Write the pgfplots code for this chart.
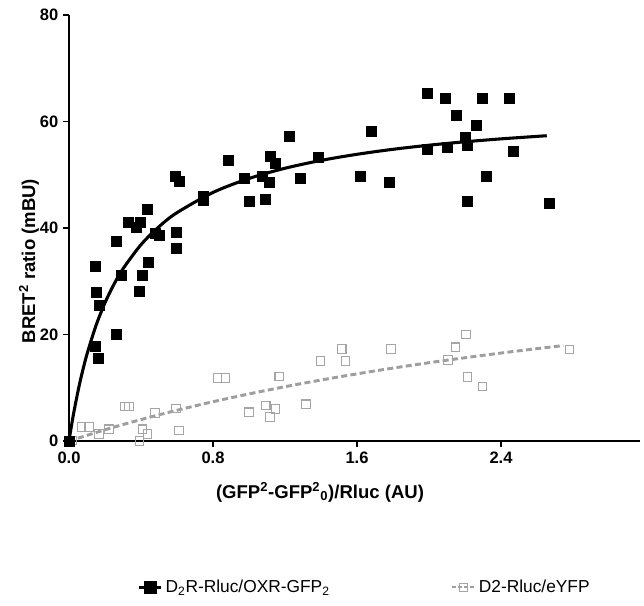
\documentclass[border=0pt]{standalone}
\usepackage{fontspec}
\setmainfont{Liberation Sans}
\usepackage{pgfplots}
\pgfplotsset{compat=1.18}
\definecolor{lgray}{RGB}{165,165,165}
\definecolor{dgray}{RGB}{158,158,158}
\begin{document}
\begin{tikzpicture}[x=1pt,y=1pt]
\useasboundingbox (-51.75,-123.75) rectangle (431.25,330.75);
\begin{axis}[
  at={(0,0)}, anchor=south west,
  scale only axis, width=428.25pt, height=319.5pt,
  xmin=0, xmax=3.172, ymin=0, ymax=80,
  clip=false,
  axis lines=left,
  axis line style={line width=1.2pt, -},
  tick style={line width=1.2pt, black},
  major tick length=4.5pt, tick align=outside,
  xtick={0,0.8,1.6,2.4}, ytick={0,20,40,60,80},
  minor tick num=0,
  /pgf/number format/assume math mode=true,
  xticklabel style={/pgf/number format/.cd, fixed, fixed zerofill, precision=1},
  every tick label/.append style={font=\fontsize{12.4}{14}\selectfont\bfseries},
  xlabel={(GFP\textsuperscript{2}-GFP\textsuperscript{2}\textsubscript{0})/Rluc (AU)},
  ylabel={BRET\textsuperscript{2} ratio (mBU)},
  label style={font=\fontsize{13.9}{16}\selectfont\bfseries},
  xlabel style={at={(axis description cs:0.4396,-0.134)}, anchor=base},
  ylabel style={at={(axis description cs:-0.0595,0.4225)}, anchor=base},
  legend columns=2,
  legend style={draw=none, fill=none, at={(axis description cs:0.518,-0.343)}, anchor=center,
    font=\fontsize{13}{15}\selectfont,
    /tikz/every even column/.append style={column sep=89pt}},
]
\addplot[dgray, line width=2.2pt, dash pattern=on 4.5pt off 2.5pt, smooth, forget plot] coordinates {
(0,0) (0.25,2.61) (0.5,4.92) (0.75,6.99) (1.0,8.84) (1.25,10.52) (1.5,12.04)
(1.75,13.43) (2.0,14.70) (2.25,15.86) (2.5,16.94) (2.746,17.92)};
\addplot[only marks, mark=square, mark size=3.2pt, lgray, mark options={line width=0.8pt}, forget plot] coordinates {
(0.02,0.1) (0.07,2.6) (0.111,2.6) (0.167,1.35) (0.222,2.2) (0.311,6.5) (0.333,6.5)
(0.409,2.2) (0.437,1.35) (0.391,0) (0.478,5.3) (0.594,6.1) (0.611,2.0) (0.824,11.8)
(0.87,11.8) (1.0,5.4) (1.168,12.1) (1.093,6.7) (1.148,6.0) (1.117,4.5) (1.317,6.9)
(1.398,15.0) (1.515,17.3) (1.537,15.0) (1.789,17.3) (2.106,15.2) (2.148,17.6)
(2.206,20.0) (2.213,12.0) (2.296,10.2) (2.78,17.2)};
\addplot[black, line width=2.3pt, smooth, forget plot] coordinates {
(0,0) (0.01,2.12) (0.02,4.10) (0.03,5.96) (0.05,9.35) (0.07,12.37) (0.1,16.31)
(0.15,21.68) (0.2,25.96) (0.25,29.44) (0.3,32.34) (0.4,36.87) (0.5,40.25)
(0.6,42.88) (0.8,46.68) (1.0,49.30) (1.2,51.22) (1.4,52.69) (1.6,53.84)
(1.8,54.78) (2.0,55.55) (2.2,56.19) (2.4,56.74) (2.654,57.33)};
\addplot[only marks, mark=square*, mark size=3.75pt, black, forget plot] coordinates {
(0,0) (0.144,32.9) (0.15,27.9) (0.167,25.5) (0.144,17.8) (0.163,15.6) (0.263,20.1)
(0.263,37.6) (0.293,31.2) (0.33,41.0) (0.376,40.2) (0.394,41.1) (0.437,43.5)
(0.409,31.1) (0.391,28.1) (0.439,33.5) (0.478,39.1) (0.5,38.6) (0.594,39.2)
(0.594,36.1) (0.589,49.7) (0.611,48.7) (0.746,46.0) (0.746,45.3) (0.885,52.7)
(0.974,49.3) (1.0,45.1) (1.074,49.7) (1.115,48.5) (1.093,45.4) (1.117,53.4)
(1.148,52.1) (1.226,57.2) (1.283,49.4) (1.383,53.3) (1.617,49.7) (1.678,58.1)
(1.78,48.6) (1.99,65.3) (2.09,64.4) (1.99,54.7) (2.1,55.2) (2.296,64.4)
(2.444,64.4) (2.15,61.2) (2.265,59.3) (2.204,57.1) (2.21,55.5) (2.467,54.5)
(2.32,49.7) (2.21,45.1) (2.667,44.7)};
\addlegendimage{black, line width=2.2pt, mark=square*, mark size=3.75pt}
\addlegendentry{D\textsubscript{2}R-Rluc/OXR-GFP\textsubscript{2}}
\addlegendimage{dgray, line width=1.8pt, dash pattern=on 2.5pt off 2pt, mark=square, mark size=3pt, mark options={solid, line width=0.8pt, lgray}}
\addlegendentry{D2-Rluc/eYFP}
\end{axis}
\end{tikzpicture}
\end{document}
